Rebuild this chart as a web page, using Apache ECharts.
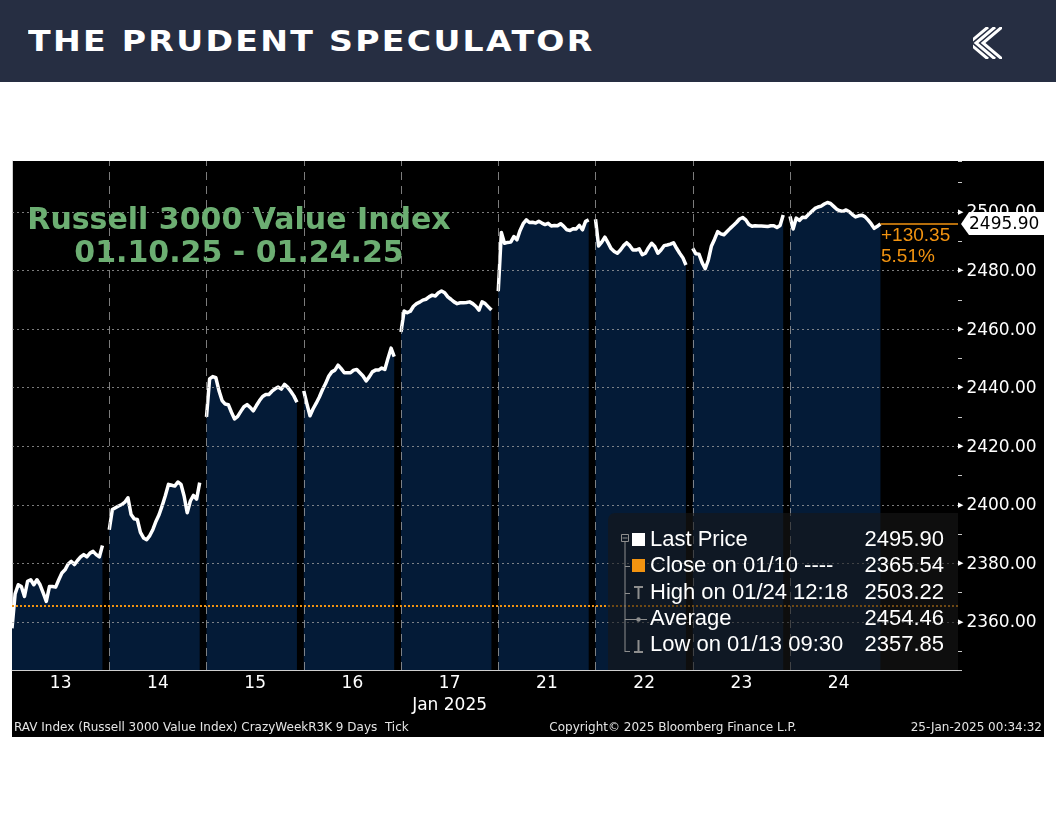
<!DOCTYPE html>
<html>
<head>
<meta charset="utf-8">
<script src="https://cdn.jsdelivr.net/npm/echarts@6/dist/echarts.min.js"></script>
<style>
html,body{margin:0;padding:0;background:#fff;width:1056px;height:816px;overflow:hidden}
#header{position:absolute;left:0;top:0;width:1056px;height:82px;background:#262e42}
#htitle{position:absolute;left:28px;top:27px;font-family:"DejaVu Sans";font-weight:bold;font-size:29px;line-height:29px;letter-spacing:2px;color:#fff;white-space:nowrap;transform:scaleX(1.144);transform-origin:0 0}
#logo{position:absolute;left:970px;top:25px}
#panel{position:absolute;left:12px;top:161px;width:1032px;height:576px;background:#000}
#chart{position:absolute;left:0;top:0;width:1056px;height:816px}
</style>
</head>
<body>
<div id="header">
  <div id="htitle">THE PRUDENT SPECULATOR</div>
  <svg id="logo" width="36" height="36" viewBox="0 0 36 36">
    <defs><clipPath id="lc"><rect x="3" y="2" width="29" height="32"/></clipPath></defs>
    <g clip-path="url(#lc)" fill="none" stroke="#fff" stroke-width="3">
      <polyline points="32,2 13,18 32,34"/>
      <polyline points="25,2 6,18 25,34"/>
      <polyline points="18,2 -1,18 18,34"/>
    </g>
  </svg>
</div>
<div id="panel"></div>
<div id="chart"></div>
<script>
// ---------------- data ----------------
const days = ['13', '14', '15', '16', '17', '21', '22', '23', '24'];
const monthLabel = 'Jan 2025';

const jan13 = [2357.85, 2369.6, 2372.7, 2372.1, 2368.7, 2373.9, 2374.4, 2372.7, 2374.4, 2372.7, 2369.9, 2367.0, 2372.1, 2372.1, 2371.9, 2374.4, 2376.7, 2377.8, 2379.8, 2380.7, 2379.6, 2381.0, 2382.2, 2383.0, 2382.2, 2383.5, 2384.1, 2383.0, 2382.2, 2386.1];
const jan14 = [2391.5, 2398.4, 2399.0, 2399.6, 2400.1, 2400.9, 2402.4, 2396.7, 2395.2, 2395.0, 2390.6, 2388.7, 2388.1, 2389.5, 2391.6, 2394.4, 2396.7, 2399.8, 2403.2, 2407.0, 2406.7, 2406.4, 2407.8, 2407.0, 2403.0, 2397.3, 2401.3, 2403.2, 2401.9, 2407.6];
const jan15 = [2430.0, 2443.0, 2443.8, 2443.4, 2439.0, 2435.6, 2434.4, 2434.2, 2431.6, 2429.3, 2430.2, 2431.9, 2433.5, 2434.2, 2433.3, 2432.1, 2433.9, 2435.6, 2437.0, 2437.7, 2437.7, 2438.8, 2439.6, 2440.2, 2439.5, 2441.1, 2440.2, 2438.8, 2437.2, 2435.0];
const jan16 = [2438.9, 2434.5, 2430.4, 2432.8, 2434.7, 2436.8, 2439.3, 2441.4, 2443.9, 2445.4, 2446.0, 2447.7, 2446.5, 2445.1, 2445.1, 2445.1, 2446.0, 2446.2, 2445.1, 2444.0, 2442.3, 2443.7, 2445.4, 2446.0, 2446.0, 2446.7, 2446.2, 2450.0, 2453.5, 2450.6];
const jan17 = [2459.0, 2466.2, 2465.6, 2466.1, 2467.8, 2468.7, 2469.2, 2469.9, 2470.2, 2471.0, 2471.6, 2471.3, 2472.4, 2473.0, 2472.4, 2471.0, 2470.2, 2469.3, 2468.7, 2469.0, 2469.0, 2469.1, 2469.3, 2468.7, 2467.8, 2466.5, 2469.3, 2468.7, 2467.6, 2466.5];
const jan21 = [2473.0, 2493.0, 2489.3, 2489.6, 2489.7, 2491.6, 2490.5, 2493.7, 2496.0, 2497.3, 2496.4, 2496.5, 2496.2, 2496.8, 2496.2, 2495.7, 2496.1, 2495.2, 2495.4, 2495.3, 2496.0, 2495.1, 2493.9, 2493.7, 2494.3, 2494.2, 2495.4, 2493.9, 2496.8, 2497.3];
const jan22 = [2497.5, 2488.4, 2489.7, 2491.4, 2489.5, 2487.5, 2486.5, 2485.9, 2487.0, 2488.5, 2489.5, 2488.5, 2487.0, 2487.0, 2487.4, 2485.4, 2485.9, 2487.8, 2489.3, 2488.2, 2485.9, 2487.0, 2488.5, 2488.7, 2489.0, 2489.5, 2487.6, 2485.9, 2484.4, 2481.9];
const jan23 = [2487.6, 2485.7, 2485.6, 2482.7, 2480.6, 2483.6, 2488.4, 2490.7, 2493.3, 2492.5, 2492.2, 2493.3, 2494.4, 2495.4, 2496.4, 2497.6, 2498.1, 2497.3, 2495.7, 2495.1, 2495.3, 2495.2, 2495.2, 2495.1, 2495.0, 2495.3, 2495.3, 2494.7, 2495.4, 2499.0];
const jan24 = [2498.5, 2494.2, 2497.9, 2497.1, 2498.2, 2498.1, 2499.2, 2500.2, 2501.2, 2501.7, 2502.0, 2502.7, 2503.22, 2502.9, 2501.9, 2500.9, 2500.4, 2500.2, 2500.7, 2500.1, 2499.1, 2498.3, 2498.7, 2498.9, 2498.4, 2497.3, 2496.0, 2494.4, 2495.1, 2495.90];
const dayValues = [jan13, jan14, jan15, jan16, jan17, jan21, jan22, jan23, jan24];

const yTickLevels = [2360, 2380, 2400, 2420, 2440, 2460, 2480, 2500];
const prevClose = 2365.54;
const lastPrice = 2495.90;
const changeTexts = ['+130.35', '5.51%'];
const legendLabels = ['Last Price', 'Close on 01/10 ----', 'High on 01/24 12:18', 'Average', 'Low on 01/13 09:30'];
const legendValues = ['2495.90', '2365.54', '2503.22', '2454.46', '2357.85'];
const titleLines = ['Russell 3000 Value Index', '01.10.25 - 01.24.25'];
const footerTexts = ['RAV Index (Russell 3000 Value Index) CrazyWeekR3K 9 Days  Tick', 'Copyright\u00a9 2025 Bloomberg Finance L.P.', '25-Jan-2025 00:34:32'];

// ---------------- layout / style ----------------
const SPAN = 0.93;          // fraction of a day slot covered by the session
const XMAX = 9.7275;
const Y_MIN = 2343.6, Y_MAX = 2517.4;
const NAVY = '#041b37';
const ORANGE = '#f29310';
const GRIDC = 'rgba(165,165,165,0.75)';

const series = dayValues.map((vals, i) => ({
  type: 'line',
  data: vals.map((v, k) => [i + SPAN * k / (vals.length - 1), v]),
  symbol: 'none', showSymbol: false, silent: true, z: 2,
  lineStyle: { color: '#ffffff', width: 3.5, join: 'round' },
  areaStyle: { color: NAVY, opacity: 1, origin: 'start' }
}));

const mlData = [];
yTickLevels.forEach(v => mlData.push({ yAxis: v, lineStyle: { color: GRIDC, type: [2, 3], width: 1 } }));
for (let i = 1; i < days.length; i++) mlData.push({ xAxis: i, lineStyle: { color: GRIDC, type: [8, 6], width: 1 } });
mlData.push({ yAxis: prevClose, lineStyle: { color: ORANGE, type: [2, 2], width: 2 } });
mlData.push([{ coord: [days.length - 1 + SPAN, lastPrice], lineStyle: { color: ORANGE, type: 'solid', width: 1.5 } }, { coord: [XMAX, lastPrice] }]);

series.push({
  type: 'line', data: [], z: 5, silent: true,
  markLine: { silent: true, symbol: ['none', 'none'], animation: false, label: { show: false }, data: mlData }
});

const LEG_X = 608, LEG_Y = 513, ROW0 = 540, ROWH = 26.3;
const graphics = [];
// title
titleLines.forEach((t, i) => graphics.push({
  type: 'text', x: 239, y: 221 + i * 33, z: 100, silent: true,
  style: { text: t, font: 'bold 30px "DejaVu Sans"', fill: '#6cae72', textAlign: 'center', textVerticalAlign: 'middle', align: 'center', verticalAlign: 'middle' }
}));
// legend box
graphics.push({ type: 'rect', z: 100, silent: true, shape: { x: LEG_X, y: LEG_Y, width: 958 - LEG_X, height: 670 - LEG_Y, r: [7, 0, 0, 0] }, style: { fill: 'rgba(24,24,24,0.6)' } });
const TREE = '#8e8e8e';
graphics.push({ type: 'rect', z: 101, silent: true, shape: { x: 621.5, y: 534.5, width: 7, height: 7 }, style: { fill: 'none', stroke: TREE, lineWidth: 1 } });
graphics.push({ type: 'line', z: 101, silent: true, shape: { x1: 622.5, y1: 538, x2: 627.5, y2: 538 }, style: { stroke: TREE, lineWidth: 1 } });
graphics.push({ type: 'line', z: 101, silent: true, shape: { x1: 625, y1: 542, x2: 625, y2: 652 }, style: { stroke: TREE, lineWidth: 1 } });
for (let r = 1; r < 5; r++) {
  const yy = Math.round(ROW0 + r * ROWH) + 0.5 + (r === 4 ? 6 : 0);
  graphics.push({ type: 'line', z: 101, silent: true, shape: { x1: 625, y1: yy, x2: 630, y2: yy }, style: { stroke: TREE, lineWidth: 1 } });
}
// icons
graphics.push({ type: 'rect', z: 101, silent: true, shape: { x: 632, y: 533, width: 13, height: 13 }, style: { fill: '#ffffff' } });
graphics.push({ type: 'rect', z: 101, silent: true, shape: { x: 632, y: 559, width: 13, height: 13 }, style: { fill: ORANGE } });
graphics.push({ type: 'polyline', z: 101, silent: true, shape: { points: [[634, 587], [643, 587]] }, style: { stroke: TREE, lineWidth: 2 } });
graphics.push({ type: 'line', z: 101, silent: true, shape: { x1: 638.5, y1: 587, x2: 638.5, y2: 599 }, style: { stroke: TREE, lineWidth: 2 } });
graphics.push({ type: 'line', z: 101, silent: true, shape: { x1: 630, y1: 619.5, x2: 647, y2: 619.5 }, style: { stroke: TREE, lineWidth: 1 } });
graphics.push({ type: 'circle', z: 101, silent: true, shape: { cx: 638.5, cy: 619.5, r: 2.2 }, style: { fill: TREE } });
graphics.push({ type: 'line', z: 101, silent: true, shape: { x1: 638.5, y1: 640, x2: 638.5, y2: 652 }, style: { stroke: TREE, lineWidth: 2 } });
graphics.push({ type: 'polyline', z: 101, silent: true, shape: { points: [[634, 652], [643, 652]] }, style: { stroke: TREE, lineWidth: 2 } });
legendLabels.forEach((t, i) => {
  graphics.push({ type: 'text', z: 102, silent: true, x: 650, y: ROW0 + i * ROWH,
    style: { text: t, font: '22px "Liberation Sans"', fill: '#ffffff', textAlign: 'left', textVerticalAlign: 'middle', align: 'left', verticalAlign: 'middle' } });
  graphics.push({ type: 'text', z: 102, silent: true, x: 944, y: ROW0 + i * ROWH,
    style: { text: legendValues[i], font: '22px "Liberation Sans"', fill: '#ffffff', textAlign: 'right', textVerticalAlign: 'middle', align: 'right', verticalAlign: 'middle' } });
});
// last price tag
graphics.push({ type: 'polygon', z: 110, silent: true, shape: { points: [[961, 224], [969, 212], [1044, 212], [1044, 235], [969, 235]] }, style: { fill: '#ffffff' } });
graphics.push({ type: 'text', z: 111, silent: true, x: 969, y: 224.5,
  style: { text: lastPrice.toFixed(2), font: '17px "DejaVu Sans"', fill: '#000000', textAlign: 'left', textVerticalAlign: 'middle', align: 'left', verticalAlign: 'middle' } });
changeTexts.forEach((t, i) => graphics.push({ type: 'text', z: 100, silent: true, x: 881, y: 236 + i * 21,
  style: { text: t, font: '19px "Liberation Sans"', fill: ORANGE, textAlign: 'left', textVerticalAlign: 'middle', align: 'left', verticalAlign: 'middle' } }));
// footer
const footAligns = [['left', 14], ['center', 673], ['right', 1042]];
footerTexts.forEach((t, i) => graphics.push({ type: 'text', z: 100, silent: true, x: footAligns[i][1], y: 728,
  style: { text: t, font: '12px "DejaVu Sans"', fill: '#e4e4e4', textAlign: footAligns[i][0], textVerticalAlign: 'middle', align: footAligns[i][0], verticalAlign: 'middle' } }));

const chart = echarts.init(document.getElementById('chart'), null, { renderer: 'canvas' });
chart.setOption({
  animation: false,
  backgroundColor: 'transparent',
  grid: { left: 12, right: 98, top: 161, bottom: 146, containLabel: false },
  xAxis: {
    type: 'value', min: 0, max: XMAX, interval: 1,
    axisLine: { show: true, lineStyle: { color: '#cfcfcf', width: 1 } },
    axisTick: { show: false }, splitLine: { show: false },
    axisLabel: {
      align: 'left', margin: 3, showMaxLabel: true,
      formatter: function (v) {
        const i = Math.round(v);
        if (Math.abs(v - i) > 1e-6 || i < 0 || i >= days.length) return '';
        return i === 4 ? '{d|' + days[i] + '}\n{d|' + monthLabel + '}' : '{d|' + days[i] + '}';
      },
      rich: { d: { width: 97.25, align: 'center', fontSize: 17, lineHeight: 22, fontFamily: 'DejaVu Sans', color: '#ffffff' } }
    }
  },
  yAxis: [{
    type: 'value', position: 'right', min: Y_MIN, max: Y_MAX, splitNumber: 9,
    axisLine: { show: true, lineStyle: { color: '#cfcfcf', width: 1 } },
    axisTick: { show: false }, splitLine: { show: false },
    axisLabel: {
      margin: 0, showMinLabel: false, showMaxLabel: false,
      formatter: function (v) {
        const r = Math.round(v);
        if (Math.abs(v - r) > 1e-6 || r % 20 !== 0) return '';
        return '{t|\u25B6}{v|' + v.toFixed(2) + '}';
      },
      rich: {
        t: { fontSize: 7, color: '#ffffff', fontFamily: 'DejaVu Sans', padding: [0, 3, 0, 0] },
        v: { fontSize: 17, color: '#ffffff', fontFamily: 'DejaVu Sans', padding: [2, 0, 0, 0] }
      }
    }
  }, {
    type: 'value', position: 'right', min: Y_MIN, max: Y_MAX, splitNumber: 17,
    axisLine: { show: false }, splitLine: { show: false }, axisLabel: { show: false },
    axisTick: { show: true, length: 4, lineStyle: { color: '#c8c8c8', width: 1 } }
  }],
  series: series,
  graphic: graphics
});
</script>
</body>
</html>
